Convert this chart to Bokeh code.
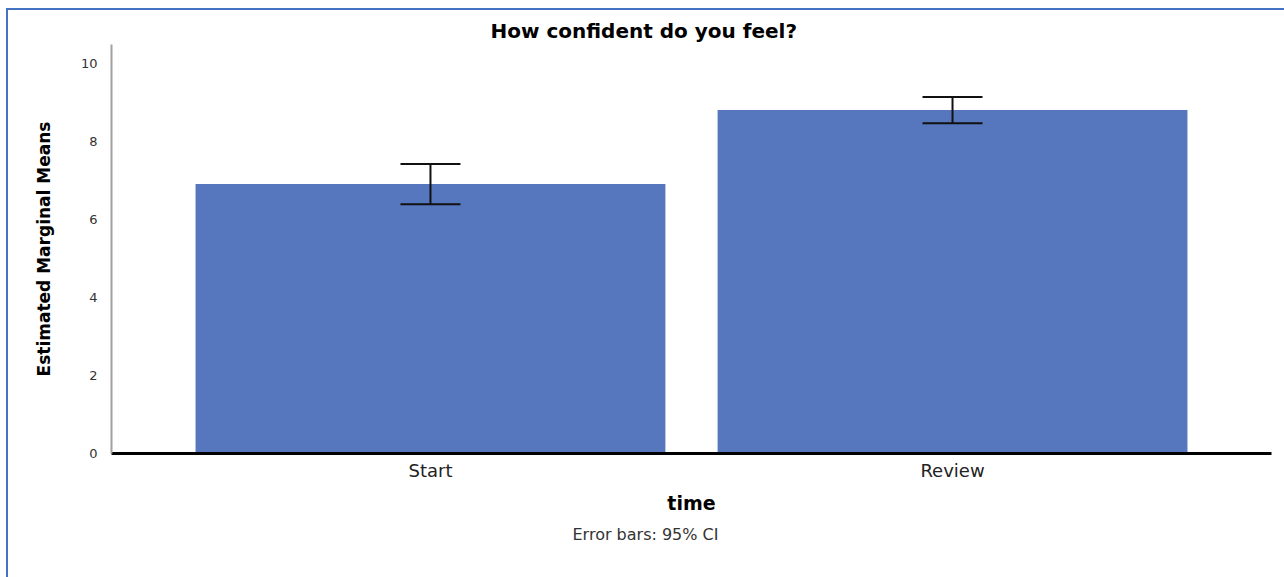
from bokeh.plotting import figure
from bokeh.models import ColumnDataSource, Whisker, TeeHead, FixedTicker, Title
from bokeh.embed import file_html
from bokeh.resources import INLINE

# ---- data ----
categories = ["Start", "Review"]
means = [6.92, 8.82]
ci_lower = [6.40, 8.48]
ci_upper = [7.43, 9.15]
y_ticks = [0, 2, 4, 6, 8, 10]

xpos = list(range(len(categories)))
src = ColumnDataSource(dict(x=xpos, top=means, lower=ci_lower, upper=ci_upper))

p = figure(width=1276, height=567, output_backend="svg", toolbar_location=None,
           x_range=(-0.611, 1.611), y_range=(0, 10.5),
           min_border_left=103, min_border_right=13, min_border_top=34, min_border_bottom=124)
p.styles = {"margin-left": "8px", "margin-top": "10px", "outline": "2px solid #4472C4"}
p.outline_line_color = None
p.grid.visible = False
p.background_fill_color = "white"
p.border_fill_color = "white"

p.vbar(x="x", top="top", width=0.9, bottom=0, source=src,
       fill_color="#5676BE", line_color=None)

w = Whisker(source=src, base="x", lower="lower", upper="upper",
            line_color="#111111", line_width=2, level="overlay",
            upper_head=TeeHead(size=60, line_color="#111111", line_width=2),
            lower_head=TeeHead(size=60, line_color="#111111", line_width=2))
p.add_layout(w)

# title
p.title.text = "How confident do you feel?"
p.title.align = "left"
p.title.text_font = "DejaVu Sans"
p.title.text_font_style = "bold"
p.title.text_font_size = "20px"
p.title.text_color = "black"
p.title.offset = 379
p.title.standoff = 3

# y axis
ya = p.yaxis[0]
ya.ticker = FixedTicker(ticks=y_ticks)
ya.axis_label = "Estimated Marginal Means"
ya.axis_label_text_font = "DejaVu Sans"
ya.axis_label_text_font_style = "bold"
ya.axis_label_text_font_size = "17px"
ya.axis_label_text_color = "black"
ya.axis_label_standoff = 24
ya.major_label_text_font = "DejaVu Sans"
ya.major_label_text_font_size = "13px"
ya.major_label_text_color = "#333333"
ya.major_label_standoff = 8
ya.major_tick_line_color = None
ya.minor_tick_line_color = None
ya.axis_line_color = "#A0A0A0"
ya.axis_line_width = 2

# x axis
xa = p.xaxis[0]
xa.ticker = FixedTicker(ticks=xpos)
xa.major_label_overrides = {i: c for i, c in zip(xpos, categories)}
xa.axis_label = "time"
xa.axis_label_text_font = "DejaVu Sans"
xa.axis_label_text_font_style = "bold"
xa.axis_label_text_font_size = "19px"
xa.axis_label_text_color = "black"
xa.axis_label_standoff = 8
xa.major_label_text_font = "DejaVu Sans"
xa.major_label_text_font_size = "18px"
xa.major_label_text_color = "#222222"
xa.major_label_standoff = 0
xa.major_tick_line_color = None
xa.minor_tick_line_color = None
xa.axis_line_color = "black"
xa.axis_line_width = 3

note = Title(text="Error bars: 95% CI", align="left", text_font="DejaVu Sans",
             text_font_size="16px", text_font_style="normal", text_color="#333333",
             offset=461, standoff=12)
p.add_layout(note, "below")

open("out.html", "w").write(file_html(p, INLINE))
